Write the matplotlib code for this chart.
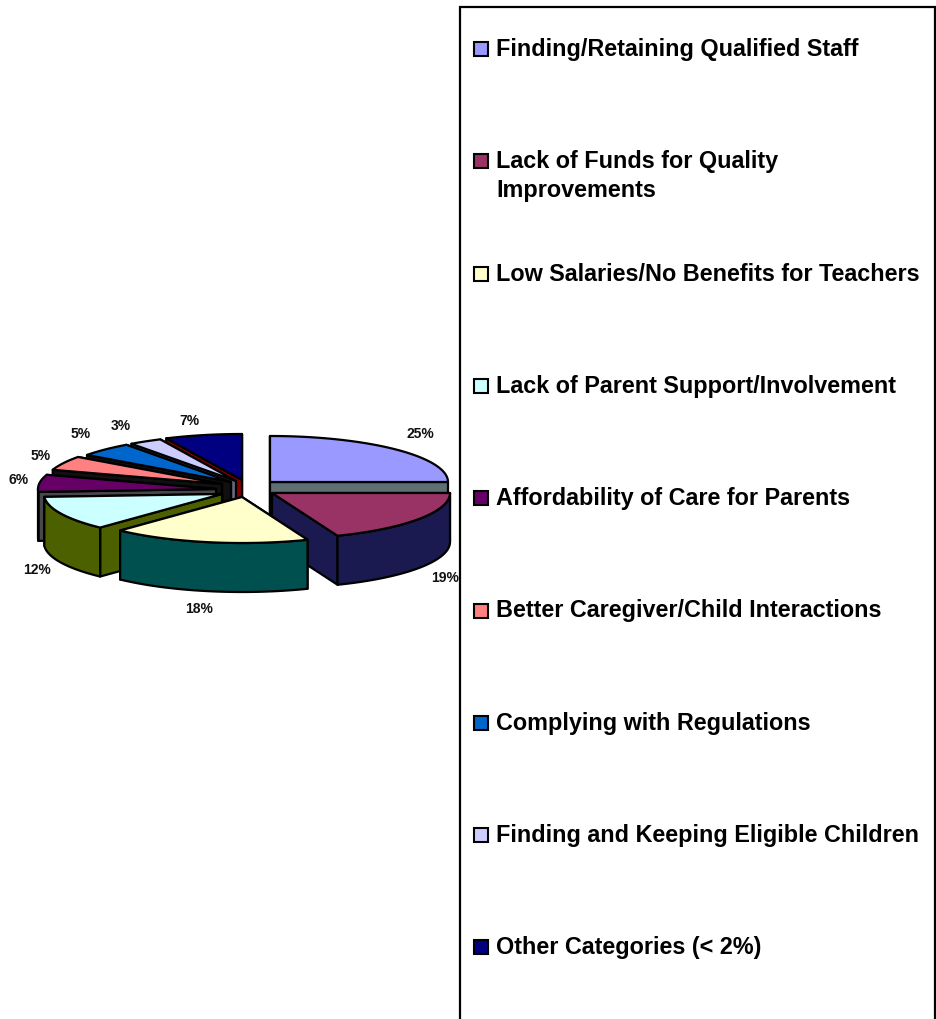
import matplotlib
matplotlib.use('Agg')
import matplotlib.pyplot as plt
import numpy as np
from matplotlib.patches import Polygon, Rectangle

labels = ['Finding/Retaining Qualified Staff',
          'Lack of Funds for Quality\nImprovements',
          'Low Salaries/No Benefits for Teachers',
          'Lack of Parent Support/Involvement',
          'Affordability of Care for Parents',
          'Better Caregiver/Child Interactions',
          'Complying with Regulations',
          'Finding and Keeping Eligible Children',
          'Other Categories (< 2%)']
values = [25, 19, 18, 12, 6, 5, 5, 3, 7]
top_colors = ['#9999ff', '#993366', '#ffffcc', '#ccffff', '#660066',
              '#ff8080', '#0066cc', '#ccccff', '#000080']
side_colors = ['#5f7074', '#1a1a50', '#005050', '#4d6000', '#47474d',
               '#101010', '#101010', '#666680', '#800000']

# apex of each exploded slice, in pixels
apex_x = [270, 272, 242, 222, 216, 222, 231, 236, 242]
apex_y = [482, 493, 497, 494, 489, 484, 482, 481, 480]
label_x = [420, 445, 199, 37, 19, 41, 81, 121, 189]
label_y = [434, 578, 609, 570, 480, 456, 434, 426, 421]

RX, RY, DEPTH = 178, 46, 49
LW = 1.6
draw_order = [0, 1, 8, 7, 6, 5, 4, 3, 2]

plt.rcParams['font.family'] = ['Liberation Sans', 'DejaVu Sans']

fig = plt.figure(figsize=(9.36, 10.19), dpi=100)
ax = fig.add_axes([0, 0, 1, 1])
ax.set_xlim(0, 936)
ax.set_ylim(1019, 0)
ax.axis('off')

edges = 90 - np.cumsum([0] + values) * 3.6


def rim(cx, cy, t0, t1):
    t = np.radians(np.linspace(t0, t1, max(int(abs(t1 - t0)) * 2, 2)))
    return np.column_stack([cx + RX * np.cos(t), cy - RY * np.sin(t)])


for i in draw_order:
    cx, cy = apex_x[i], apex_y[i]
    t0, t1 = edges[i], edges[i + 1]
    arc = rim(cx, cy, t0, t1)
    shift = np.array([0, DEPTH])
    # far cut face first so the near one covers it
    for end in sorted((arc[0], arc[-1]), key=lambda p: p[1]):
        quad = [(cx, cy), end, end + shift, (cx, cy + DEPTH)]
        ax.add_patch(Polygon(quad, fc=side_colors[i], ec='black', lw=LW, joinstyle='round'))
    # outer wall, front half of the rim only
    f0, f1 = min(t0, 0), max(t1, -180)
    if f0 > f1:
        front = rim(cx, cy, f0, f1)
        wall = np.vstack([front, front[::-1] + shift])
        ax.add_patch(Polygon(wall, fc=side_colors[i], ec='black', lw=LW, joinstyle='round'))
    top = np.vstack([[(cx, cy)], arc])
    ax.add_patch(Polygon(top, fc=top_colors[i], ec='black', lw=LW, joinstyle='round'))

for i, v in enumerate(values):
    ax.text(label_x[i], label_y[i], f'{v}%', ha='center', va='center',
            fontsize=10, fontweight='bold', color='#111111')

# legend box runs off the bottom of the figure
ax.add_patch(Rectangle((459.5, 6.5), 475, 1100, fc='white', ec='black', lw=1.6))
row_y = 49 + np.arange(len(labels)) * 112.3
for lab, col, y in zip(labels, top_colors, row_y):
    ax.add_patch(Rectangle((473.5, y - 7), 14, 14, fc=col, ec='black', lw=1.5))
    ax.text(496, y - 11, lab, ha='left', va='top', fontsize=16.8, fontweight='bold',
            linespacing=1.29, color='black')

fig.savefig('out.png', dpi=100)
